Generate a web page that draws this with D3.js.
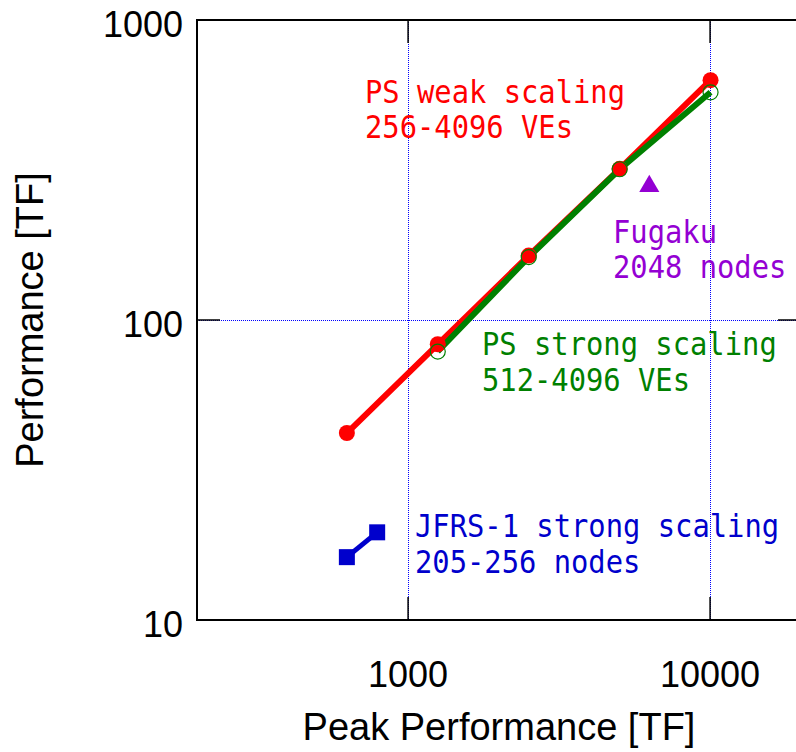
<!DOCTYPE html>
<html>
<head>
    <script src="https://cdnjs.cloudflare.com/ajax/libs/d3/7.8.5/d3.min.js"></script>
    <style>
        body {
            margin: 0;
            overflow: hidden;
            background: #fff;
        }
        .tick-label, .axis-title {
            font-family: "Liberation Sans", Arial, sans-serif;
            fill: #000;
        }
        .tick-label { font-size: 36px; }
        .axis-title { font-size: 38px; }
        .note {
            font-family: "DejaVu Sans Mono", monospace;
            font-size: 32px;
        }
        .grid {
            stroke: #0000ff;
            stroke-width: 1;
            stroke-dasharray: 1,1;
            shape-rendering: crispEdges;
        }
    </style>
</head>
<body>
    <svg width="810" height="752"></svg>
    <script>
        // Data
        const xTicks = [1000, 10000];
        const yTicks = [10, 100, 1000];

        const weakPeak = [627, 1254, 2509, 5018, 10035];
        const weakPerf = [42, 83, 164, 319, 630];

        const strongPeak = [1254, 2509, 5018, 10035];
        const strongPerf = [78.5, 162, 318, 574];

        const fugakuPeak = [6291];
        const fugakuPerf = [279];

        const jfrsPeak = [627, 790];
        const jfrsPerf = [16.2, 19.6];

        const svg = d3.select("svg");

        // Plot area (right edge runs past the window, as in the original)
        const plotL = 197, plotR = 801, plotT = 20, plotB = 620;

        const x = d3.scaleLog().domain([200, 20000]).range([plotL, plotR]);
        const y = d3.scaleLog().domain([10, 1000]).range([plotB, plotT]);

        const zip = (a, b) => a.map((v, i) => [v, b[i]]);
        const line = d3.line().x(d => x(d[0])).y(d => y(d[1]));

        // Grid
        const grid = svg.append("g");
        grid.selectAll(".gx")
            .data(xTicks)
            .join("line")
            .attr("class", "grid")
            .attr("x1", d => Math.round(x(d)) + 0.5).attr("x2", d => Math.round(x(d)) + 0.5)
            .attr("y1", plotT).attr("y2", plotB);
        grid.selectAll(".gy")
            .data(yTicks.slice(1, -1))
            .join("line")
            .attr("class", "grid")
            .attr("x1", plotL).attr("x2", plotR)
            .attr("y1", d => Math.round(y(d)) + 0.5).attr("y2", d => Math.round(y(d)) + 0.5);

        // Inward ticks on all four sides
        const tickLen = 23;
        const ticks = svg.append("g").attr("stroke", "#000").attr("stroke-width", 1.5);
        xTicks.forEach(t => {
            ticks.append("line").attr("x1", x(t)).attr("x2", x(t)).attr("y1", plotB).attr("y2", plotB - tickLen);
            ticks.append("line").attr("x1", x(t)).attr("x2", x(t)).attr("y1", plotT).attr("y2", plotT + tickLen);
        });
        yTicks.forEach(t => {
            ticks.append("line").attr("x1", plotL).attr("x2", plotL + tickLen).attr("y1", y(t)).attr("y2", y(t));
            ticks.append("line").attr("x1", plotR).attr("x2", plotR - tickLen).attr("y1", y(t)).attr("y2", y(t));
        });

        // Frame
        svg.append("rect")
            .attr("x", plotL).attr("y", plotT)
            .attr("width", plotR - plotL).attr("height", plotB - plotT)
            .attr("fill", "none")
            .attr("stroke", "#000")
            .attr("stroke-width", 2);

        // Tick labels
        svg.append("g").selectAll("text")
            .data(xTicks)
            .join("text")
            .attr("class", "tick-label")
            .attr("text-anchor", "middle")
            .attr("x", d => x(d))
            .attr("y", 687)
            .text(d => d);

        svg.append("g").selectAll("text")
            .data(yTicks)
            .join("text")
            .attr("class", "tick-label")
            .attr("text-anchor", "end")
            .attr("x", 183)
            .attr("y", d => y(d) + 17)
            .text(d => d);

        // Axis titles
        svg.append("text")
            .attr("class", "axis-title")
            .attr("text-anchor", "middle")
            .attr("x", (plotL + plotR) / 2)
            .attr("y", 740)
            .text("Peak Performance [TF]");

        svg.append("text")
            .attr("class", "axis-title")
            .attr("text-anchor", "middle")
            .attr("transform", "translate(43,320) rotate(-90)")
            .text("Performance [TF]");

        // Series
        const red = "#ff0000", green = "#008000", blue = "#0000cc", purple = "#9400d3";

        svg.append("path")
            .datum(zip(weakPeak, weakPerf))
            .attr("d", line)
            .attr("fill", "none")
            .attr("stroke", red)
            .attr("stroke-width", 6);

        svg.append("path")
            .datum(zip(strongPeak, strongPerf))
            .attr("d", line)
            .attr("fill", "none")
            .attr("stroke", green)
            .attr("stroke-width", 6);

        svg.append("g").selectAll("circle")
            .data(zip(weakPeak, weakPerf))
            .join("circle")
            .attr("cx", d => x(d[0]))
            .attr("cy", d => y(d[1]))
            .attr("r", 8)
            .attr("fill", red);

        svg.append("g").selectAll("circle")
            .data(zip(strongPeak, strongPerf))
            .join("circle")
            .attr("cx", d => x(d[0]))
            .attr("cy", d => y(d[1]))
            .attr("r", 7.5)
            .attr("fill", "none")
            .attr("stroke", green)
            .attr("stroke-width", 1.2);

        svg.append("path")
            .datum(zip(jfrsPeak, jfrsPerf))
            .attr("d", line)
            .attr("fill", "none")
            .attr("stroke", blue)
            .attr("stroke-width", 5);

        svg.append("g").selectAll("rect")
            .data(zip(jfrsPeak, jfrsPerf))
            .join("rect")
            .attr("x", d => x(d[0]) - 8)
            .attr("y", d => y(d[1]) - 8)
            .attr("width", 16)
            .attr("height", 16)
            .attr("fill", blue);

        svg.append("g").selectAll("path")
            .data(zip(fugakuPeak, fugakuPerf))
            .join("path")
            .attr("transform", d => `translate(${x(d[0])},${y(d[1])})`)
            .attr("d", d3.symbol(d3.symbolTriangle, 175))
            .attr("fill", purple);

        // Annotations
        const notes = [
            { lines: ["PS weak scaling", "256-4096 VEs"], x: 365, y: 103, dy: 35, color: red },
            { lines: ["PS strong scaling", "512-4096 VEs"], x: 482, y: 355, dy: 36, color: green },
            { lines: ["Fugaku", "2048 nodes"], x: 613, y: 243, dy: 35, color: purple },
            { lines: ["JFRS-1 strong scaling", "205-256 nodes"], x: 415, y: 537, dy: 36, color: blue }
        ];

        notes.forEach(n => {
            const g = svg.append("g")
                .attr("transform", `translate(${n.x},${n.y}) scale(0.9,1)`);
            g.selectAll("text")
                .data(n.lines)
                .join("text")
                .attr("class", "note")
                .attr("fill", n.color)
                .attr("x", 0)
                .attr("y", (d, i) => i * n.dy)
                .text(d => d);
        });
    </script>
</body>
</html>
